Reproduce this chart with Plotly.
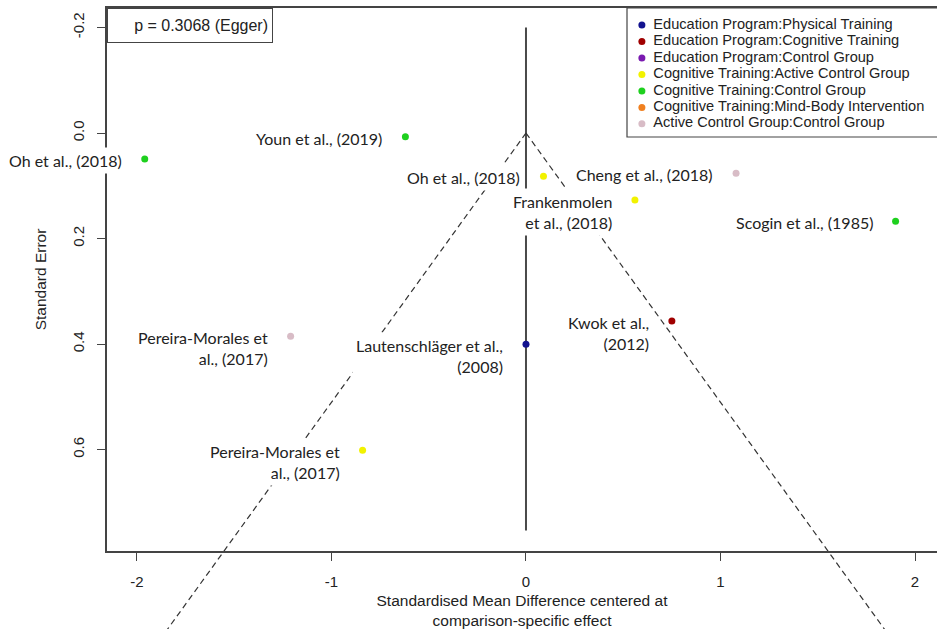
import plotly.graph_objects as go

# ---------------- data ----------------
comparisons = [
    "Education Program:Physical Training",
    "Education Program:Cognitive Training",
    "Education Program:Control Group",
    "Cognitive Training:Active Control Group",
    "Cognitive Training:Control Group",
    "Cognitive Training:Mind-Body Intervention",
    "Active Control Group:Control Group",
]
comparison_colors = ["#12128F", "#A00000", "#7A1AB0", "#F2F200", "#1ED01E", "#F08020", "#D8BCC6"]

study_labels = [
    "Oh et al., (2018)",
    "Youn et al., (2019)",
    "Oh et al., (2018)",
    "Cheng et al., (2018)",
    "Frankenmolen<br>et al., (2018)",
    "Scogin et al., (1985)",
    "Kwok et al.,<br>(2012)",
    "Lautenschläger et al.,<br>(2008)",
    "Pereira-Morales et<br>al., (2017)",
    "Pereira-Morales et<br>al., (2017)",
]
study_comparison = [4, 4, 3, 6, 3, 4, 1, 0, 6, 3]
smd = [-1.96, -0.62, 0.09, 1.08, 0.56, 1.90, 0.75, 0.00, -1.21, -0.84]
se = [0.049, 0.007, 0.082, 0.076, 0.127, 0.167, 0.356, 0.400, 0.385, 0.601]

pvalue_text = "p = 0.3068 (Egger)"
x_tick_vals = [-2, -1, 0, 1, 2]
x_tick_text = ["-2", "-1", "0", "1", "2"]
y_tick_vals = [-0.2, 0.0, 0.2, 0.4, 0.6]
y_tick_text = ["-0.2", "0.0", "0.2", "0.4", "0.6"]

pooled_effect = 0.0
z_crit = 1.96
funnel_se_max = 1.0
ref_line_se = [-0.2, 0.753]

# ---------------- layout constants ----------------
W, H = 937, 629
PLOT_L, PLOT_T, PLOT_B = 107, 8, 551
X_RANGE = [-2.154, 2.113]
Y_RANGE = [0.792, -0.237]          # bottom value, top value (reversed axis)
se_per_px = (Y_RANGE[0] - Y_RANGE[1]) / (PLOT_B - PLOT_T)
FULL_Y_RANGE = [Y_RANGE[0] + (H - PLOT_B) * se_per_px, Y_RANGE[1] - PLOT_T * se_per_px]

X_DOMAIN = [PLOT_L / W, 1.0]
Y_DOMAIN = [(H - PLOT_B) / H, (H - PLOT_T) / H]

LEG_L, LEG_B = 627, 137
LEG_X_DOMAIN = [LEG_L / W, 1.0]
LEG_Y_DOMAIN = [(H - LEG_B) / H, (H - PLOT_T) / H]

AXIS_FONT = "Liberation Sans, Arial, sans-serif"
LABEL_FONT = "Lato, Calibri, sans-serif"
INK = "#222222"
LINE = "#444444"

fig = go.Figure()

# funnel lines (full-height invisible subplot x/y so they can run past the box)
fig.add_trace(go.Scatter(
    x=[pooled_effect, pooled_effect], y=ref_line_se, mode="lines",
    line=dict(color="#4a4a4a", width=2), xaxis="x", yaxis="y",
    showlegend=False, hoverinfo="skip"))
for sgn in (-1, 1):
    fig.add_trace(go.Scatter(
        x=[pooled_effect, pooled_effect + sgn * z_crit * funnel_se_max],
        y=[0, funnel_se_max], mode="lines",
        line=dict(color="#333333", width=1.2, dash="6px,4px"),
        xaxis="x", yaxis="y", showlegend=False, hoverinfo="skip"))

# study points on the visible axes x2/y2
fig.add_trace(go.Scatter(
    x=smd, y=se, mode="markers", xaxis="x2", yaxis="y2",
    marker=dict(size=7, color=[comparison_colors[c] for c in study_comparison]),
    text=study_labels, showlegend=False, hoverinfo="x+y"))

# legend drawn in its own small subplot x3/y3
leg_rows = list(range(len(comparisons)))
fig.add_trace(go.Scatter(
    x=[0.048] * len(comparisons), y=leg_rows, mode="markers", xaxis="x3", yaxis="y3",
    marker=dict(size=7, color=comparison_colors), showlegend=False, hoverinfo="skip"))
fig.add_trace(go.Scatter(
    x=[0.085] * len(comparisons), y=leg_rows, mode="text", xaxis="x3", yaxis="y3",
    text=comparisons, textposition="middle right",
    textfont=dict(family=AXIS_FONT, size=14.6, color=INK),
    showlegend=False, hoverinfo="skip"))

annotations = []
for lab, xv, yv in zip(study_labels, smd, se):
    annotations.append(dict(
        x=xv, y=yv, xref="x2", yref="y2", text=lab, showarrow=False,
        xanchor="right", yanchor="top", align="right", xshift=-19, yshift=12,
        bgcolor="white", borderpad=3,
        font=dict(family=LABEL_FONT, size=16, color=INK)))

annotations.append(dict(
    x=0, y=1, xref="x2 domain", yref="y2 domain", xanchor="left", yanchor="top",
    text=pvalue_text, showarrow=False, align="right", width=156, height=25,
    borderpad=4, bordercolor=LINE, borderwidth=1, bgcolor="white",
    font=dict(family=AXIS_FONT, size=16, color=INK)))

shapes = [dict(type="rect", xref="x3 domain", yref="y3 domain",
               x0=0, x1=1.2, y0=0, y1=1, line=dict(color=LINE, width=1.2),
               fillcolor="rgba(0,0,0,0)")]

hidden = dict(visible=False, showgrid=False, zeroline=False, fixedrange=True)

fig.update_layout(
    width=W, height=H, autosize=False,
    margin=dict(l=0, r=0, t=0, b=0, pad=0),
    paper_bgcolor="white", plot_bgcolor="rgba(0,0,0,0)",
    showlegend=False,
    xaxis=dict(domain=X_DOMAIN, range=X_RANGE, anchor="y", **hidden),
    yaxis=dict(domain=[0, 1], range=FULL_Y_RANGE, anchor="x", **hidden),
    xaxis2=dict(
        domain=X_DOMAIN, range=X_RANGE, anchor="y2",
        showline=True, mirror=True, linecolor=LINE, linewidth=1.5,
        ticks="outside", ticklen=8, tickwidth=1.2, tickcolor=LINE,
        tickvals=x_tick_vals, ticktext=x_tick_text,
        tickfont=dict(family=AXIS_FONT, size=15, color=INK),
        ticklabelstandoff=8,
        showgrid=False, zeroline=False,
        title=dict(text="Standardised Mean Difference centered at<br>comparison-specific effect",
                   font=dict(family=AXIS_FONT, size=15.5, color=INK), standoff=9)),
    yaxis2=dict(
        domain=Y_DOMAIN, range=Y_RANGE, anchor="x2",
        showline=True, linecolor=LINE, linewidth=1.5,
        ticks="outside", ticklen=8, tickwidth=1.2, tickcolor=LINE,
        tickvals=y_tick_vals, ticktext=y_tick_text, tickangle=-90,
        tickfont=dict(family=AXIS_FONT, size=15, color=INK),
        ticklabelstandoff=7,
        showgrid=False, zeroline=False,
        title=dict(text="Standard Error",
                   font=dict(family=AXIS_FONT, size=15.5, color=INK), standoff=20)),
    xaxis3=dict(domain=LEG_X_DOMAIN, range=[0, 1], anchor="y3", **hidden),
    yaxis3=dict(domain=LEG_Y_DOMAIN, range=[6.8, -1.04], anchor="x3", **hidden),
    annotations=annotations,
    shapes=shapes,
)

fig.write_html("out.html", config={"displayModeBar": False},
               post_script="document.body.style.margin='0';")
